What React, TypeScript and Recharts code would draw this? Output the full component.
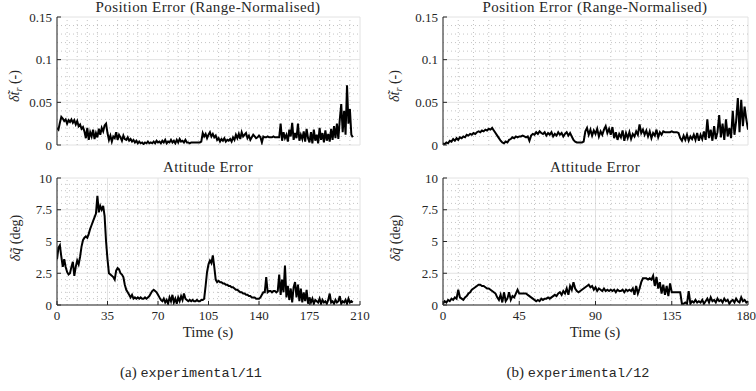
import { LineChart, Line, XAxis, YAxis, CartesianGrid, ReferenceLine } from 'recharts'

const SERIF = '"Liberation Serif", "DejaVu Serif", serif'
const MONO = '"Liberation Mono", "DejaVu Sans Mono", monospace'
const INK = '#262626'

// tick labels
const timeTicksA = [0, 35, 70, 105, 140, 175, 210]
const timeTicksB = [0, 45, 90, 135, 180]
const posTicks = [0, 0.05, 0.1, 0.15]
const attTicks = [0, 2.5, 5, 7.5, 10]

const titles = ['Position Error (Range-Normalised)', 'Attitude Error']
const captions = ['experimental/11', 'experimental/12']

// seconds between samples
const sampleStep = 1

// (a) experimental/11, position error (-)
const posA = [
  0.020, 0.018, 0.026, 0.033, 0.031, 0.028, 0.030, 0.025, 0.029, 0.027,
  0.030, 0.026, 0.029, 0.024, 0.028, 0.022, 0.024, 0.019, 0.021, 0.016,
  0.008, 0.020, 0.006, 0.015, 0.010, 0.018, 0.007, 0.014, 0.009, 0.019,
  0.012, 0.020, 0.016, 0.023, 0.025, 0.014, 0.006, 0.011, 0.004, 0.010,
  0.008, 0.015, 0.006, 0.012, 0.009, 0.005, 0.011, 0.007, 0.006, 0.009,
  0.005, 0.007, 0.004, 0.006, 0.003, 0.005, 0.002, 0.004, 0.002, 0.003,
  0.001, 0.003, 0.002, 0.004, 0.002, 0.003, 0.002, 0.004, 0.002, 0.005,
  0.003, 0.004, 0.002, 0.005, 0.003, 0.006, 0.002, 0.004, 0.003, 0.006,
  0.003, 0.005, 0.002, 0.006, 0.003, 0.007, 0.004, 0.005, 0.003, 0.006,
  0.003, 0.003, 0.002, 0.003, 0.003, 0.003, 0.003, 0.003, 0.003, 0.003,
  0.004, 0.014, 0.010, 0.013, 0.008, 0.012, 0.015, 0.010, 0.013, 0.009,
  0.011, 0.006, 0.008, 0.004, 0.007, 0.005, 0.008, 0.004, 0.006, 0.005,
  0.007, 0.004, 0.009, 0.006, 0.012, 0.008, 0.013, 0.007, 0.015, 0.010,
  0.012, 0.014, 0.008, 0.011, 0.006, 0.009, 0.012, 0.010, 0.008, 0.009,
  0.011, 0.009, 0.003, 0.010, 0.009, 0.009, 0.010, 0.009, 0.009, 0.009,
  0.010, 0.009, 0.009, 0.009, 0.009, 0.025, 0.005, 0.015, 0.008, 0.012,
  0.004, 0.018, 0.010, 0.026, 0.006, 0.014, 0.008, 0.025, 0.005, 0.012,
  0.007, 0.016, 0.004, 0.019, 0.008, 0.003, 0.015, 0.002, 0.018, 0.005,
  0.012, 0.002, 0.020, 0.006, 0.014, 0.003, 0.017, 0.005, 0.013, 0.004,
  0.019, 0.006, 0.022, 0.008, 0.025, 0.007, 0.030, 0.048, 0.015, 0.040,
  0.012, 0.070, 0.025, 0.042, 0.012, 0.009,
]

// (a) experimental/11, attitude error (deg)
const attA = [
  3.6, 4.5, 4.7, 3.8, 3.0, 3.6, 3.0, 2.6, 2.4, 2.5,
  3.0, 3.4, 2.3, 3.0, 3.5, 3.2, 3.8, 4.6, 5.1, 5.3,
  5.4, 5.3, 5.6, 6.0, 6.3, 6.6, 6.9, 7.2, 8.6, 7.3,
  7.8, 7.5, 7.8, 7.0, 5.0, 3.6, 2.5, 2.4, 2.3, 2.2,
  2.0, 2.7, 2.9, 2.8, 2.5, 2.4, 2.2, 1.6, 1.2, 1.0,
  0.8, 0.6, 0.8, 0.5, 0.6, 0.5, 0.6, 0.5, 0.6, 0.5,
  0.5, 0.6, 0.5, 0.6, 0.7, 0.9, 1.1, 1.2, 1.1, 1.0,
  0.8, 0.6, 0.4, 0.3, 0.5, 0.2, 0.4, 0.1, 0.6, 0.3,
  0.8, 0.2, 0.5, 0.1, 0.6, 0.3, 0.7, 0.4, 0.9, 0.5,
  0.4, 0.3, 0.4, 0.3, 0.4, 0.3, 0.3, 0.4, 0.3, 0.3,
  0.4, 0.4, 0.5, 1.5, 2.6, 3.2, 3.5, 3.3, 3.9, 3.0,
  2.0, 1.8, 1.9, 1.8, 1.8, 1.7, 1.7, 1.6, 1.6, 1.5,
  1.5, 1.4, 1.4, 1.3, 1.2, 1.2, 1.1, 1.0, 1.0, 0.9,
  0.9, 0.8, 0.8, 0.7, 0.7, 0.6, 0.6, 0.6, 0.5, 0.5,
  0.5, 0.6, 0.8, 1.0, 1.0, 2.2, 1.0, 1.1, 1.1, 1.0,
  1.1, 1.1, 1.0, 1.1, 2.4, 0.8, 2.0, 1.0, 3.1, 0.6,
  1.5, 0.4, 1.3, 0.2, 1.4, 1.8, 0.6, 1.6, 0.3, 1.3,
  0.2, 1.0, 0.3, 1.2, 0.1, 0.6, 0.2, 0.5, 0.1, 0.4,
  0.3, 0.2, 0.5, 0.1, 0.4, 0.2, 0.3, 0.1, 0.4, 0.9,
  0.2, 0.3, 0.1, 0.4, 0.2, 0.3, 0.7, 0.1, 0.3, 0.2,
  0.4, 0.1, 0.5, 0.2, 0.3, 0.2,
]

// (b) experimental/12, position error (-)
const posB = [
  0.002, 0.001, 0.003, 0.002, 0.005, 0.004, 0.007, 0.005, 0.008, 0.006,
  0.009, 0.008, 0.010, 0.009, 0.012, 0.011, 0.013, 0.012, 0.014, 0.013,
  0.015, 0.016, 0.015, 0.017, 0.016, 0.018, 0.017, 0.019, 0.018, 0.020,
  0.017, 0.014, 0.011, 0.008, 0.005, 0.003, 0.002, 0.004, 0.003, 0.006,
  0.007, 0.009, 0.008, 0.010, 0.009, 0.010, 0.010, 0.011, 0.010, 0.009,
  0.010, 0.005, 0.011, 0.013, 0.012, 0.015, 0.013, 0.016, 0.014, 0.013,
  0.015, 0.011, 0.014, 0.012, 0.015, 0.010, 0.013, 0.011, 0.015, 0.012,
  0.014, 0.010, 0.013, 0.015, 0.011, 0.014, 0.010, 0.006, 0.004, 0.003,
  0.003, 0.003, 0.003, 0.004, 0.016, 0.020, 0.012, 0.018, 0.011, 0.017,
  0.013, 0.019, 0.010, 0.016, 0.012, 0.018, 0.022, 0.014, 0.019, 0.012,
  0.021, 0.008, 0.015, 0.006, 0.013, 0.009, 0.017, 0.005, 0.014, 0.008,
  0.015, 0.007, 0.013, 0.010, 0.016, 0.012, 0.024, 0.014, 0.018, 0.012,
  0.017, 0.010, 0.016, 0.008, 0.014, 0.011, 0.018, 0.009, 0.015, 0.012,
  0.016, 0.015, 0.015, 0.015, 0.015, 0.016, 0.015, 0.015, 0.015, 0.014,
  0.008, 0.005, 0.011, 0.006, 0.012, 0.005, 0.010, 0.007, 0.012, 0.006,
  0.014, 0.005, 0.012, 0.007, 0.016, 0.006, 0.030, 0.008, 0.018, 0.005,
  0.022, 0.007, 0.015, 0.035, 0.009, 0.025, 0.006, 0.030, 0.010, 0.020,
  0.008, 0.040, 0.012, 0.028, 0.055, 0.015, 0.053, 0.022, 0.045, 0.030,
  0.018,
]

// (b) experimental/12, attitude error (deg)
const attB = [
  0.1, 0.3, 0.2, 0.4, 0.3, 0.5, 0.4, 0.6, 0.5, 1.2,
  0.6, 0.5, 0.4, 0.6, 0.7, 0.9, 1.0, 1.2, 1.3, 1.4,
  1.5, 1.6, 1.6, 1.5, 1.5, 1.4, 1.3, 1.3, 1.2, 1.1,
  1.0, 0.9, 0.6, 0.4, 0.8, 0.2, 1.0, 0.3, 0.5, 1.0,
  0.4, 0.7, 0.6, 0.9, 1.2, 0.9, 0.9, 0.9, 0.9, 0.9,
  0.8, 0.7, 0.6, 0.5, 0.4, 0.3, 0.4, 0.3, 0.5, 0.4,
  0.5, 0.5, 0.6, 0.5, 0.6, 0.7, 0.8, 0.7, 0.9, 1.0,
  0.8, 1.1, 0.9, 1.3, 0.8, 1.5, 1.2, 1.8, 1.3, 1.1,
  1.0, 1.1, 1.2, 1.3, 1.4, 1.5, 1.6, 1.4, 1.5, 1.2,
  1.4, 1.1, 1.3, 1.2, 1.1, 1.3, 1.1, 1.2, 1.1, 1.2,
  1.1, 1.2, 1.0, 1.2, 1.1, 1.1, 1.2, 1.0, 1.2, 1.1,
  1.2, 1.1, 1.3, 0.8, 1.5, 0.9, 1.3, 1.8, 2.1, 2.1,
  2.1, 2.0, 2.1, 2.0, 2.3, 1.5, 2.2, 1.3, 1.8, 0.9,
  1.6, 0.8, 1.5, 0.7, 1.7, 1.0, 1.0, 1.0, 1.0, 1.0,
  1.0, 0.1, 0.1, 0.2, 0.1, 1.1, 0.1, 0.3, 0.2, 0.4,
  0.2, 0.3, 0.2, 0.4, 0.1, 0.3, 0.5, 0.2, 0.6, 0.3,
  0.4, 0.2, 0.5, 0.3, 0.4, 0.2, 0.5, 0.3, 0.4, 0.1,
  0.3, 0.4, 0.2, 0.5, 0.3, 0.2, 0.6, 0.3, 0.4, 0.2,
  0.3,
]

const toRows = (vals: number[]) => vals.map((v, i) => ({ t: i * sampleStep, v }))

// minor grid positions: split each major interval into `parts`
function minorOf(major: number[], parts: number) {
  const out: number[] = []
  for (let i = 0; i < major.length - 1; i++) {
    const step = (major[i + 1] - major[i]) / parts
    for (let k = 1; k < parts; k++) out.push(major[i] + k * step)
  }
  return out
}

const TICK_SIZE = 13

// x tick label; the last one is pulled left so it stays on the page
function XTick({ x, y, payload, last }: any) {
  const isLast = payload.value === last
  return (
    <text
      x={isLast ? x + 8 : x} y={y} dy="0.71em" textAnchor={isLast ? 'end' : 'middle'}
      fill={INK} fontSize={TICK_SIZE} fontFamily={SERIF}
    >
      {payload.value}
    </text>
  )
}

type PanelProps = {
  vals: number[]
  xTicks: number[]
  yTicks: number[]
  left: number
  top: number
  width: number
  height: number
  margin: { top: number; right: number; bottom: number; left: number }
  labels: boolean
  pullLast?: boolean
}

function Panel({ vals, xTicks, yTicks, left, top, width, height, margin, labels, pullLast }: PanelProps) {
  const xMax = xTicks[xTicks.length - 1]
  const yMax = yTicks[yTicks.length - 1]
  const tickFont = { fill: INK, fontSize: TICK_SIZE, fontFamily: SERIF }
  const xTick = !labels ? false : pullLast ? (p: any) => <XTick {...p} last={xMax} /> : tickFont
  return (
    <div style={{ position: 'absolute', left, top }}>
      <LineChart width={width} height={height} data={toRows(vals)} margin={margin}>
        <CartesianGrid stroke="#e2e2e2" strokeWidth={1} />
        {minorOf(xTicks, 5).map(x => (
          <ReferenceLine key={'mx' + x} x={x} stroke="#c4c4c4" strokeDasharray="1 3" />
        ))}
        {minorOf(yTicks, 5).map(y => (
          <ReferenceLine key={'my' + y} y={y} stroke="#c4c4c4" strokeDasharray="1 3" />
        ))}
        <XAxis
          dataKey="t" type="number" domain={[0, xMax]} ticks={xTicks} interval={0} allowDataOverflow
          height={labels ? 25 : 0} tick={xTick} tickSize={-4} tickMargin={10}
          axisLine={{ stroke: INK }} tickLine={{ stroke: INK }}
        />
        <YAxis
          type="number" domain={[0, yMax]} ticks={yTicks} interval={0} allowDataOverflow
          width={50} tick={tickFont} tickSize={-4} tickMargin={9}
          axisLine={{ stroke: INK }} tickLine={{ stroke: INK }}
        />
        <XAxis
          xAxisId="top" orientation="top" type="number" domain={[0, xMax]} ticks={xTicks} interval={0}
          height={0} tick={false} tickSize={-4} axisLine={{ stroke: INK }} tickLine={{ stroke: INK }}
        />
        <YAxis
          yAxisId="right" orientation="right" type="number" domain={[0, yMax]} ticks={yTicks} interval={0}
          width={0} tick={false} tickSize={-4} axisLine={{ stroke: INK }} tickLine={{ stroke: INK }}
        />
        <Line dataKey="v" type="linear" stroke="#000" strokeWidth={2} dot={false} isAnimationActive={false} />
      </LineChart>
    </div>
  )
}

function Text({ x, y, children, rotate, size = 14, spacing = 0 }: { x: number; y: number; children: any; rotate?: boolean; size?: number; spacing?: number }) {
  return (
    <div
      style={{
        position: 'absolute', left: x, top: y, whiteSpace: 'nowrap', fontSize: size, color: INK, lineHeight: 1,
        letterSpacing: spacing, transform: `translate(-50%, -50%)${rotate ? ' rotate(-90deg)' : ''}`,
      }}
    >
      {children}
    </div>
  )
}

const posLabel = (
  <span><i>δt̃</i><sub style={{ fontSize: 10 }}><i>r</i></sub> (-)</span>
)
const attLabel = (
  <span><i>δq̃</i> (deg)</span>
)

export default function App() {
  const mTopA = { top: 17, right: 10, bottom: 15, left: 7 }
  const mBotA = { top: 18, right: 10, bottom: 10, left: 7 }
  const mTopB = { top: 17, right: 8, bottom: 15, left: 13 }
  const mBotB = { top: 18, right: 8, bottom: 10, left: 13 }
  return (
    <div style={{ position: 'absolute', left: 0, top: 0, width: 756, height: 391, background: '#fff', fontFamily: SERIF }}>
      <Panel vals={posA} xTicks={timeTicksA} yTicks={posTicks}
        left={0} top={0} width={370} height={160} margin={mTopA} labels={false} />
      <Panel vals={attA} xTicks={timeTicksA} yTicks={attTicks}
        left={0} top={160} width={370} height={180} margin={mBotA} labels />
      <Panel vals={posB} xTicks={timeTicksB} yTicks={posTicks}
        left={380} top={0} width={376} height={160} margin={mTopB} labels={false} />
      <Panel vals={attB} xTicks={timeTicksB} yTicks={attTicks}
        left={380} top={160} width={376} height={180} margin={mBotB} labels pullLast />

      <Text x={208} y={7} size={15} spacing={0.4}>{titles[0]}</Text>
      <Text x={208} y={167} size={15} spacing={0.4}>{titles[1]}</Text>
      <Text x={595} y={7} size={15} spacing={0.4}>{titles[0]}</Text>
      <Text x={595} y={167} size={15} spacing={0.4}>{titles[1]}</Text>

      <Text x={16} y={86} rotate>{posLabel}</Text>
      <Text x={16} y={238} rotate>{attLabel}</Text>
      <Text x={396} y={86} rotate>{posLabel}</Text>
      <Text x={396} y={238} rotate>{attLabel}</Text>

      <Text x={208} y={332} size={15}>Time (s)</Text>
      <Text x={595} y={332} size={15}>Time (s)</Text>

      <Text x={191} y={373} size={15}>(a) <span style={{ fontFamily: MONO, fontSize: 13.5 }}>{captions[0]}</span></Text>
      <Text x={578} y={373} size={15}>(b) <span style={{ fontFamily: MONO, fontSize: 13.5 }}>{captions[1]}</span></Text>
    </div>
  )
}
